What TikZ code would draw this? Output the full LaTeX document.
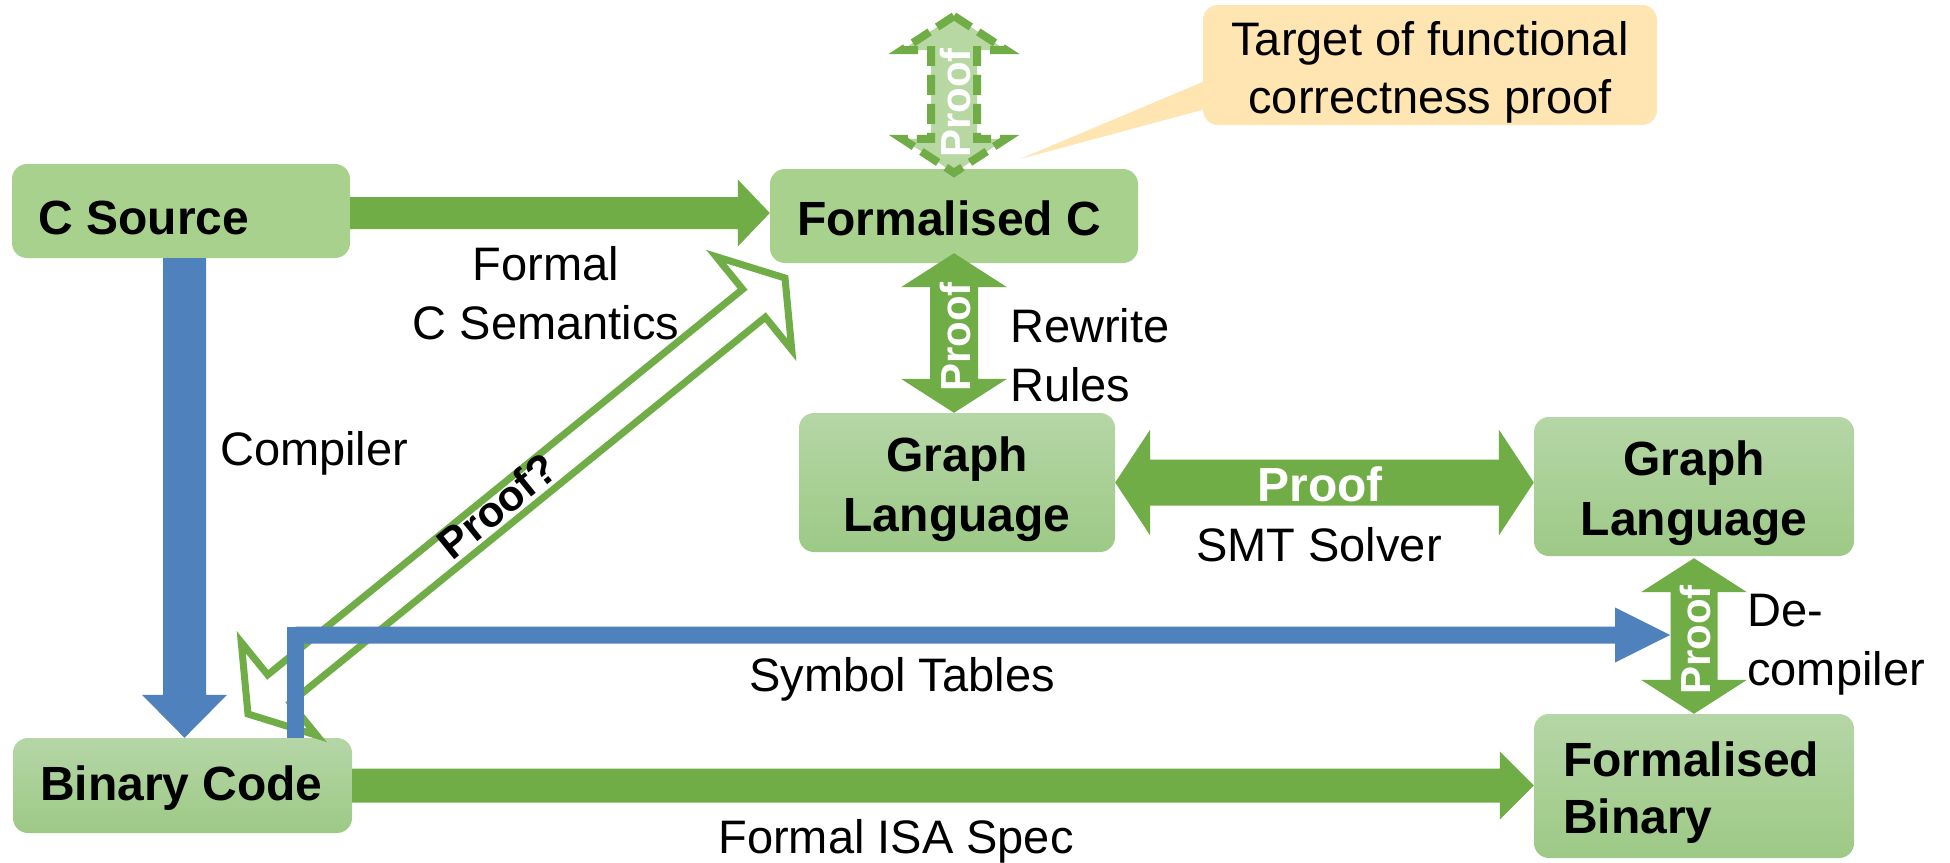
\documentclass[tikz,border=0pt]{standalone}
\usepackage{fontspec}
\setmainfont{Liberation Sans}
\usetikzlibrary{calc}
\definecolor{grn}{HTML}{70AD47}
\definecolor{bluec}{HTML}{4F81BD}
\definecolor{boxflat}{HTML}{A9D18E}
\definecolor{boxtop}{HTML}{B5D6A6}
\definecolor{boxbot}{HTML}{9DC986}
\definecolor{calloutc}{HTML}{FFE5B2}
\definecolor{dashfill}{HTML}{B7D8A2}
% single block arrow: style, start, end, half shaft, half head, head length
\newcommand\blkarrow[6]{%
  \path[#1] let \p1=(#2), \p2=(#3), \n1={atan2(\y2-\y1,\x2-\x1)} in
    ($(\p1)+(\n1+90:#4)$) -- ($(\p2)+(\n1+180:#6)+(\n1+90:#4)$) --
    ($(\p2)+(\n1+180:#6)+(\n1+90:#5)$) -- (\p2) --
    ($(\p2)+(\n1+180:#6)+(\n1-90:#5)$) -- ($(\p2)+(\n1+180:#6)+(\n1-90:#4)$) --
    ($(\p1)+(\n1-90:#4)$) -- cycle;}
% double block arrow
\newcommand\dblblkarrow[6]{%
  \path[#1] let \p1=(#2), \p2=(#3), \n1={atan2(\y2-\y1,\x2-\x1)} in
    (\p1) -- ($(\p1)+(\n1:#6)+(\n1+90:#5)$) -- ($(\p1)+(\n1:#6)+(\n1+90:#4)$) --
    ($(\p2)+(\n1+180:#6)+(\n1+90:#4)$) -- ($(\p2)+(\n1+180:#6)+(\n1+90:#5)$) --
    (\p2) --
    ($(\p2)+(\n1+180:#6)+(\n1-90:#5)$) -- ($(\p2)+(\n1+180:#6)+(\n1-90:#4)$) --
    ($(\p1)+(\n1:#6)+(\n1-90:#4)$) -- ($(\p1)+(\n1:#6)+(\n1-90:#5)$) -- cycle;}
\tikzset{
  boxbase/.style={rectangle, rounded corners=15pt, inner sep=0pt, draw=none,
    font=\bfseries\fontsize{48}{60}\selectfont},
  box/.style={boxbase, fill=boxflat},
  gbox/.style={boxbase, top color=boxtop, bottom color=boxbot},
  lbl/.style={inner sep=0pt, font=\fontsize{47}{59}\selectfont},
  prooftxt/.style={inner sep=0pt, text=white, font=\bfseries\fontsize{42}{50}\selectfont},
  greenarrow/.style={fill=grn},
  bluearrow/.style={fill=bluec},
}
\begin{document}
\begin{tikzpicture}[x=1pt,y=-1pt]
\useasboundingbox (0,0) rectangle (1950,862);
\fill[white] (0,0) rectangle (1950,862);

% boxes
\node[box, minimum width=338pt, minimum height=94pt,
      text height=46pt, text depth=0pt] (cs) at (181,211) {\makebox[285pt][l]{C Source}};
\node[box, minimum width=368pt, minimum height=94pt,
      text height=38pt, text depth=0pt] (fc) at (954,216) {\makebox[314pt][l]{Formalised C}};
\node[gbox, minimum width=316pt, minimum height=139pt, align=center] (gl) at (957,482.5)
      {\rule{0pt}{49pt}Graph\\Language};
\node[gbox, minimum width=320pt, minimum height=139pt, align=center] (gl2) at (1694,486.5)
      {\rule{0pt}{49pt}Graph\\Language};
\node[gbox, minimum width=339pt, minimum height=95pt,
      text height=34pt, text depth=5pt] (bc) at (182.5,785.5) {\makebox[285pt][l]{Binary Code}};
\node[gbox, minimum width=320pt, minimum height=144pt, text width=262pt, align=left,
      font=\bfseries\fontsize{48}{57}\selectfont] (fb) at (1694,786)
      {\rule{0pt}{47pt}Formalised\\Binary};

% callout
\node[rectangle, rounded corners=15pt, fill=calloutc, minimum width=454pt, minimum height=120pt,
      inner sep=0pt, align=center, font=\fontsize{47}{58}\selectfont] (co) at (1430,65)
      {\rule{0pt}{48pt}Target of functional\\correctness proof};
\coordinate (ptip) at (1020,159);
\fill[calloutc] ($(co.west)+(14,11)$) -- (ptip) -- ($(co.west)+(14,41)$) -- cycle;

% hollow proof? arrow
\coordinate (pq1) at (248,714);
\coordinate (pq2) at (785,278);
\dblblkarrow{draw=grn, line width=7pt}{pq1}{pq2}{18pt}{60pt}{40pt}

% blue arrows
\coordinate (cpx) at (184.5,0);
\blkarrow{bluearrow}{cs.south -| cpx}{bc.north -| cpx}{21.5pt}{42.5pt}{43pt}
\coordinate (stx) at (295.5,0);
\coordinate (stend) at (1670,635);
\coordinate (stc) at (stx |- stend);
\draw[bluec, line width=17pt] (bc.north -| stx) -- ([yshift=8.5pt]stc);
\blkarrow{bluearrow}{stc}{stend}{8.5pt}{27.5pt}{55pt}

% green arrows
\coordinate (csr) at ([yshift=-2pt]cs.east);
\blkarrow{greenarrow}{csr}{fc.west |- csr}{16pt}{33.5pt}{32pt}
\blkarrow{greenarrow}{bc.east}{fb.west |- bc.east}{17pt}{34pt}{34pt}
\dblblkarrow{greenarrow}{[yshift=10pt]fc.south}{gl.north -| fc.south}{24pt}{53pt}{34pt}
\dblblkarrow{greenarrow}{gl.east}{gl2.west |- gl.east}{23pt}{53pt}{35pt}
\dblblkarrow{greenarrow}{[yshift=-2pt]gl2.south}{fb.north}{23.5pt}{53pt}{34pt}
\coordinate (dtop) at (954,16);
\dblblkarrow{fill=dashfill, draw=grn, line width=8pt, dash pattern=on 20pt off 9pt}{dtop}{[yshift=-4pt]fc.north}{23pt}{52pt}{34pt}

% labels
\node[prooftxt, rotate=90] (pr0) at (955,103) {Proof};
\node[prooftxt, rotate=90] (pr1) at (955,337) {Proof};
\node[prooftxt, rotate=90] (pr3) at (1695,640) {Proof};
\node[prooftxt, font=\bfseries\fontsize{48}{56}\selectfont] (pr2) at (1320,484) {Proof};
\node[inner sep=0pt, rotate=39, font=\bfseries\fontsize{43}{50}\selectfont] (prq) at (497,506) {Proof?};

\node[lbl, anchor=base west] (comp) at (220,465) {Compiler};
\node[lbl, align=center] (fcs) at (546,293) {Formal\\C Semantics};
\node[lbl, align=left, anchor=west] (rr) at (1010,355.5) {Rewrite\\Rules};
\node[lbl, align=left, anchor=west] (dc) at (1747,644.5) {De-\\compiler};
\node[lbl, anchor=base] (smt) at (1319,561) {SMT Solver};
\node[lbl, anchor=base] (sym) at (902,691) {Symbol Tables};
\node[lbl, anchor=base] (isa) at (896,853) {Formal ISA Spec};
\end{tikzpicture}
\end{document}
